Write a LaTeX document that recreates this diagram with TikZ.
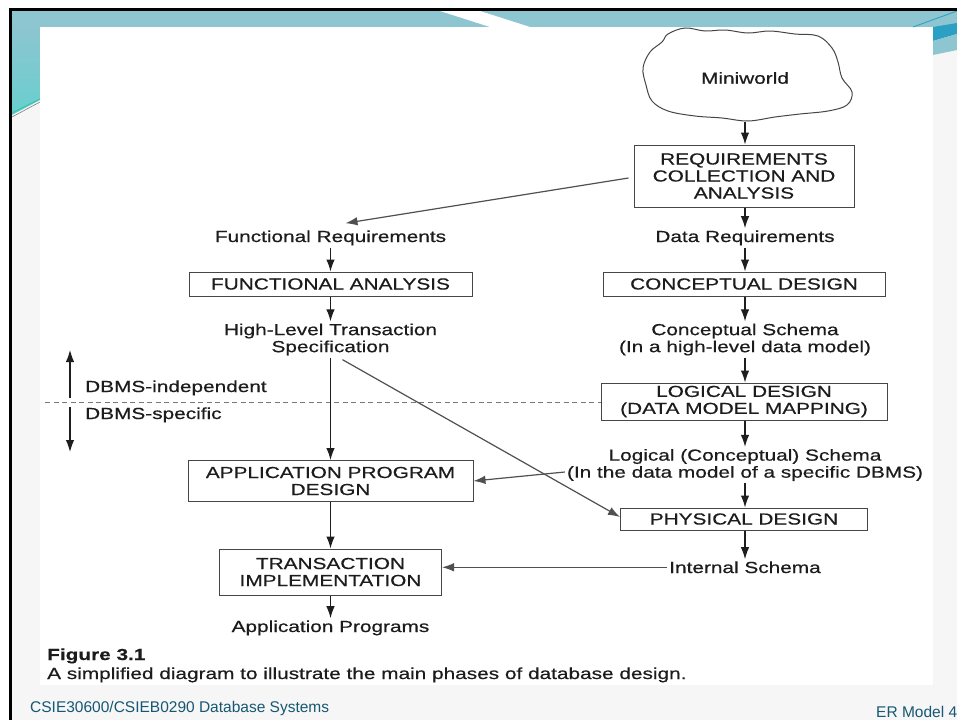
\documentclass[tikz,border=0pt]{standalone}
\usepackage{fontspec}
\setmainfont{Liberation Sans}
\newfontfamily\figfont[FakeStretch=1.3,FakeBold=0.5]{Liberation Sans}
\usetikzlibrary{arrows.meta}
\definecolor{band}{RGB}{141,197,208}
\definecolor{bandlow}{RGB}{104,207,207}
\definecolor{darkteal}{RGB}{43,159,196}
\definecolor{paper}{RGB}{246,246,246}
\definecolor{txt}{RGB}{28,28,28}
\definecolor{boxc}{RGB}{70,70,70}
\definecolor{arrc}{RGB}{30,30,30}
\definecolor{diag}{RGB}{80,80,80}
\definecolor{foot}{RGB}{22,88,115}
\newcommand{\figtext}{\figfont\fontsize{16}{17}\selectfont}
\begin{document}
\begin{tikzpicture}[x=1pt,y=-1pt,
  box/.style={draw=boxc, line width=1pt, inner sep=0pt, align=center, font=\figtext, text=txt},
  lbl/.style={inner sep=2pt, align=center, font=\figtext, text=txt},
  arr/.style={draw=arrc, line width=1.2pt, -{Latex[length=12pt,width=8.5pt]}},
  plain/.style={inner sep=0pt, anchor=base west}]
\useasboundingbox (0,0) rectangle (957,720);
% slide background
\fill[white] (0,0) rectangle (957,720);
\fill[paper] (12,11) rectangle (957,720);
\fill[band] (12,11) rectangle (957,27);
\fill[white] (440,11) -- (480,11) -- (530,27) -- (490,27) -- cycle;
\shade[top color=band, bottom color=bandlow] (12,27) -- (40,27) -- (40,100) -- (12,115) -- cycle;
\draw[color={rgb,255:red,53;green,198;blue,168}, line width=1pt] (12,113) -- (40,99);
\draw[gray, line width=0.6pt] (12,117) -- (40,102);
\fill[white] (40,27) rectangle (933,685);
\fill[darkteal] (933,27) -- (957,23) -- (957,34) -- (933,41) -- cycle;
\fill[band] (933,41) -- (957,34) -- (957,50) -- (933,55) -- cycle;
\draw[darkteal, line width=0.8pt] (913,27) -- (957,11);
\fill[black] (9,8) rectangle (957,11);
\fill[black] (9,8) rectangle (12,720);
% cloud
\draw[boxc, line width=1pt] plot[smooth cycle, tension=0.6] coordinates {
 (668,34) (685,28) (705,31) (725,30) (748,33) (770,31) (795,34) (818,36) (832,48)
 (838,62) (842,78) (852,92) (847,105) (828,111) (800,114) (775,117) (748,121)
 (722,118) (695,116) (668,111) (652,101) (646,85) (643,68) (650,52) (662,42)};
\node[lbl, minimum width=200pt, minimum height=88pt] (mini) at (745,78) {Miniworld};
% right column
\node[box, minimum width=220pt, minimum height=62pt] (req) at (744,176) {REQUIREMENTS\\COLLECTION AND\\ANALYSIS};
\node[lbl, anchor=base] (dreq) at (745,242) {Data Requirements};
\node[box, minimum width=282pt, minimum height=24pt] (cd) at (744,284) {CONCEPTUAL DESIGN};
\node[lbl] (cs) at (745,339.5) {Conceptual Schema\\(In a high-level data model)};
\node[box, minimum width=286pt, minimum height=37pt] (ld) at (744,401.5) {LOGICAL DESIGN\\(DATA MODEL MAPPING)};
\node[lbl] (lcs) at (745,465) {Logical (Conceptual) Schema\\(In the data model of a specific DBMS)};
\node[box, minimum width=247pt, minimum height=22pt] (pd) at (744,519) {PHYSICAL DESIGN};
\node[lbl, anchor=base] (is) at (745,573) {Internal Schema};
% left column
\node[lbl, anchor=base] (freq) at (330.5,242) {Functional Requirements};
\node[box, minimum width=283pt, minimum height=24pt] (fa) at (330.5,284) {FUNCTIONAL ANALYSIS};
\node[lbl] (hlts) at (330.5,339.5) {High-Level Transaction\\Specification};
\node[box, minimum width=285pt, minimum height=41pt] (apd) at (330.5,481) {APPLICATION PROGRAM\\DESIGN};
\node[box, minimum width=222pt, minimum height=46pt] (ti) at (330.5,572) {TRANSACTION\\IMPLEMENTATION};
\node[lbl, anchor=base] (ap) at (330.5,632) {Application Programs};
% DBMS labels
\node[plain, font=\figtext, text=txt] (dbi) at (85,392) {DBMS-independent};
\node[plain, font=\figtext, text=txt] (dbs) at (85,419) {DBMS-specific};
\coordinate (up) at (70,350);
\coordinate (upgap) at (70,398);
\coordinate (dngap) at (70,407);
\coordinate (dn) at (70,452);
\coordinate (dl) at (45,402);
\draw[color={rgb,255:red,120;green,120;blue,120}, line width=1pt, dash pattern=on 5pt off 3.5pt] (dl) -- (dl -| ld.west);
\draw[arr] (upgap) -- (up);
\draw[arr] (dngap) -- (dn);
% connectors
\draw[arr] (mini.south) -- (mini.south |- req.north);
\draw[arr] (req.south -| dreq.north) -- (dreq.north);
\draw[arr, draw=diag] ([xshift=-5pt,yshift=-2pt]req.west) -- ([xshift=15pt,yshift=5pt]freq.north);
\draw[arr] (freq.south) -- (fa.north);
\draw[arr] (dreq.south) -- (dreq.south |- cd.north);
\draw[arr] (fa.south) -- (hlts.north);
\draw[arr] (cd.south -| cs.north) -- (cs.north);
\draw[arr] (hlts.south) -- (apd.north);
\draw[arr, draw=diag] ([xshift=12pt,yshift=-2pt]hlts.south) -- ([yshift=2pt]pd.west);
\draw[arr] (cs.south) -- (cs.south |- ld.north);
\draw[arr] (ld.south -| lcs.north) -- (lcs.north);
\draw[arr, draw=diag] ([yshift=-7pt]lcs.west) -- (apd.east);
\draw[arr] (lcs.south) -- (lcs.south |- pd.north);
\draw[arr] (pd.south -| is.north) -- (is.north);
\draw[arr, draw=diag] (is.west) -- (is.west -| ti.east);
\draw[arr] (apd.south) -- (ti.north);
\draw[arr] (ti.south) -- (ap.north);
% caption
\node[plain, font=\figtext\bfseries, text=txt] (figlab) at (47,660) {Figure 3.1};
\node[plain, font=\figtext, text=txt] (cap) at (47,679) {A simplified diagram to illustrate the main phases of database design.};
% footer
\node[plain, font=\fontsize{15.5}{17}\selectfont, text=foot] (foot1) at (30,712) {CSIE30600/CSIEB0290 Database Systems};
\node[plain, font=\fontsize{15.5}{17}\selectfont, text=foot] (foot2) at (876,717) {ER Model 4};
\end{tikzpicture}
\end{document}
